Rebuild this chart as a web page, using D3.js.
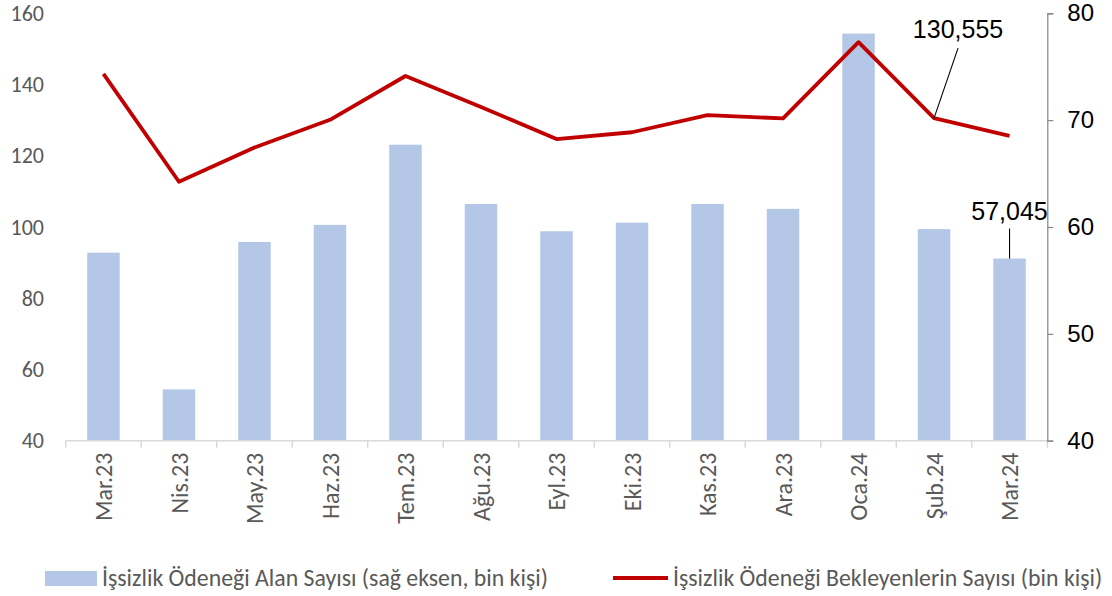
<!DOCTYPE html>
<html>
<head>
<meta charset="utf-8">
<script src="https://cdn.jsdelivr.net/npm/d3@7"></script>
<style>
  body { margin: 0; background: #fff; }
  svg { display: block; }
</style>
</head>
<body>
<div id="chart"></div>
<script>
// data
const months = ["Mar.23", "Nis.23", "May.23", "Haz.23", "Tem.23", "Ağu.23", "Eyl.23",
  "Eki.23", "Kas.23", "Ara.23", "Oca.24", "Şub.24", "Mar.24"]
const receiving = [57.6, 44.8, 58.6, 60.2, 67.7, 62.15, 59.6, 60.4, 62.15, 61.7, 78.1, 59.8, 57.045] // bars, right axis
const waiting = [143.0, 112.7, 122.3, 130.1, 142.4, 133.7, 124.7, 126.6, 131.4, 130.5, 151.9, 130.555, 125.6] // line, left axis
const leftTicks = [40, 60, 80, 100, 120, 140, 160]
const rightTicks = [40, 50, 60, 70, 80]
const barLabel = "İşsizlik Ödeneği Alan Sayısı (sağ eksen, bin kişi)"
const lineLabel = "İşsizlik Ödeneği Bekleyenlerin Sayısı (bin kişi)"

const W = 1112, H = 596
const margin = { top: 13.3, left: 65.7, right: 64.7, bottom: 155.3 }
const calibri = "Carlito, Calibri, Lato, sans-serif"
const arial = "'Liberation Sans', Arial, sans-serif"
const grey = "#595959"

const svg = d3.select("#chart").append("svg").attr("width", W).attr("height", H)

const x = d3.scaleBand().domain(months).range([margin.left, W - margin.right]).padding(0)
const yL = d3.scaleLinear().domain([40, 160]).range([H - margin.bottom, margin.top])
const yR = d3.scaleLinear().domain([40, 80]).range([H - margin.bottom, margin.top])
const barW = x.bandwidth() * 0.43
const cx = (d) => x(d) + x.bandwidth() / 2

// bars
svg.append("g")
  .selectAll("rect")
  .data(months)
  .join("rect")
  .attr("x", (d) => cx(d) - barW / 2)
  .attr("width", barW)
  .attr("y", (d, i) => yR(receiving[i]))
  .attr("height", (d, i) => yR(40) - yR(receiving[i]))
  .attr("fill", "#b4c7e7")

// x axis (band boundaries as ticks)
const gx = svg.append("g").attr("transform", `translate(0,${yL(40)})`)
gx.append("line")
  .attr("x1", margin.left).attr("x2", W - margin.right)
  .attr("stroke", "#d9d9d9").attr("stroke-width", 1.5)
gx.selectAll(".tk")
  .data(months.concat(["end"]))
  .join("line")
  .attr("class", "tk")
  .attr("x1", (d, i) => margin.left + i * x.step())
  .attr("x2", (d, i) => margin.left + i * x.step())
  .attr("y1", 0).attr("y2", 7)
  .attr("stroke", "#d9d9d9").attr("stroke-width", 1.5)
gx.selectAll("text")
  .data(months)
  .join("text")
  .attr("transform", (d) => `translate(${cx(d)},12) rotate(-90)`)
  .attr("text-anchor", "end")
  .attr("dy", "0.36em")
  .attr("font-family", calibri)
  .attr("font-size", 24)
  .attr("fill", grey)
  .text((d) => d)

// left axis, labels only
svg.append("g")
  .selectAll("text")
  .data(leftTicks)
  .join("text")
  .attr("x", 44)
  .attr("y", (d) => yL(d))
  .attr("dy", "0.35em")
  .attr("text-anchor", "end")
  .attr("font-family", calibri)
  .attr("font-size", 22)
  .attr("fill", grey)
  .text((d) => d)

// right axis
const gr = svg.append("g")
  .attr("transform", `translate(${W - margin.right},0)`)
  .call(d3.axisRight(yR).tickValues(rightTicks).tickSize(6).tickPadding(14))
gr.select(".domain").attr("stroke", "#868686").attr("stroke-width", 1.2)
gr.selectAll(".tick line").attr("stroke", "#868686").attr("stroke-width", 1.2)
gr.selectAll(".tick text")
  .attr("font-family", arial)
  .attr("font-size", 24)
  .attr("fill", "#000")

// line
const line = d3.line()
  .x((d, i) => cx(months[i]))
  .y((d) => yL(d))
svg.append("path")
  .datum(waiting)
  .attr("d", line)
  .attr("fill", "none")
  .attr("stroke", "#c00000")
  .attr("stroke-width", 3.8)
  .attr("stroke-linejoin", "round")

// value callouts
const iF = 11, iM = 12
const fmt = (v) => d3.format(".3f")(v).replace(".", ",")
svg.append("line")
  .attr("x1", cx(months[iF])).attr("y1", yL(waiting[iF]))
  .attr("x2", cx(months[iF]) + 24).attr("y2", yL(waiting[iF]) - 70)
  .attr("stroke", "#000").attr("stroke-width", 1.1)
svg.append("text")
  .attr("x", cx(months[iF]) + 24).attr("y", yL(waiting[iF]) - 80)
  .attr("text-anchor", "middle")
  .attr("font-family", arial).attr("font-size", 25)
  .text(fmt(waiting[iF]))

svg.append("line")
  .attr("x1", cx(months[iM])).attr("y1", yR(receiving[iM]))
  .attr("x2", cx(months[iM])).attr("y2", yR(receiving[iM]) - 30)
  .attr("stroke", "#000").attr("stroke-width", 1.1)
svg.append("text")
  .attr("x", cx(months[iM])).attr("y", yR(receiving[iM]) - 39)
  .attr("text-anchor", "middle")
  .attr("font-family", arial).attr("font-size", 25)
  .text(fmt(receiving[iM]))

// legend
const lg = svg.append("g").attr("font-family", calibri).attr("font-size", 23.8).attr("fill", grey)
lg.append("rect").attr("x", 45).attr("y", 571).attr("width", 52).attr("height", 15).attr("fill", "#b4c7e7")
lg.append("text").attr("x", 102).attr("y", 578).attr("dy", "0.35em").text(barLabel)
lg.append("line").attr("x1", 613).attr("x2", 668).attr("y1", 578).attr("y2", 578)
  .attr("stroke", "#c00000").attr("stroke-width", 3.8)
lg.append("text").attr("x", 673).attr("y", 578).attr("dy", "0.35em").text(lineLabel)
</script>
</body>
</html>
